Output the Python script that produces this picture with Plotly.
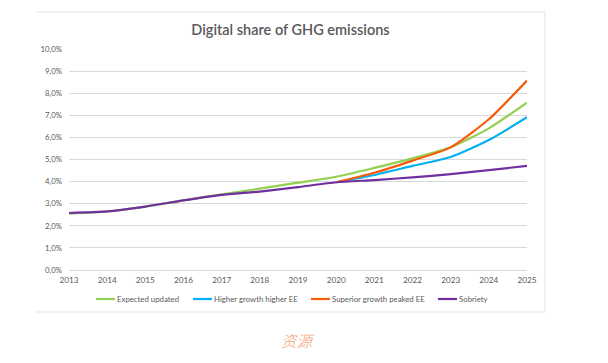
import plotly.graph_objects as go

years = list(range(2013, 2026))
years_alt = list(range(2020, 2026))

expected_updated = [2.55, 2.65, 2.87, 3.15, 3.42, 3.68, 3.95, 4.22, 4.62, 5.05, 5.55, 6.41, 7.57]
higher_growth = [3.97, 4.30, 4.71, 5.11, 5.88, 6.91]
superior_growth = [3.97, 4.40, 4.95, 5.55, 6.82, 8.57]
sobriety = [2.58, 2.65, 2.87, 3.15, 3.40, 3.55, 3.75, 3.97, 4.07, 4.19, 4.34, 4.52, 4.71]

series = [
    ("Expected updated", years, expected_updated, "#92d050"),
    ("Higher growth higher EE", years_alt, higher_growth, "#00b0f0"),
    ("Superior growth peaked EE", years_alt, superior_growth, "#f85a0c"),
    ("Sobriety", years, sobriety, "#7030a0"),
]

# page body has an 8px default margin; work in reference pixel coords minus OFF
OFF = 8
W, H = 608 - OFF, 363 - OFF
PL, PR, PT, PB = 69, 527, 49, 270  # plot area in reference pixels
ml, mr, mt, mb = PL - OFF, W - (PR - OFF), PT - OFF, H - (PB - OFF)
PW, PH = W - ml - mr, H - mt - mb
FONT = "Lato, Open Sans, sans-serif"


def px_x(x):
    return (x - OFF - ml) / PW


def px_y(y):
    return (H - mb - (y - OFF)) / PH


fig = go.Figure()
for name, xs, ys, col in series:
    fig.add_trace(go.Scatter(
        x=xs, y=ys, name=name, mode="lines",
        line=dict(color=col, width=2.2, shape="spline", smoothing=0.6),
        hoverinfo="x+y+name", showlegend=False,
    ))

# manual legend (layout only)
legend_starts = [96, 193, 311, 438]
leg_y = 299
shapes = []
annotations = []
for (name, _, _, col), x0 in zip(series, legend_starts):
    shapes.append(dict(type="line", xref="paper", yref="paper",
                       x0=px_x(x0), x1=px_x(x0 + 19), y0=px_y(leg_y), y1=px_y(leg_y),
                       line=dict(color=col, width=2.2)))
    annotations.append(dict(text=name, xref="paper", yref="paper",
                            x=px_x(x0 + 19), y=px_y(leg_y), xanchor="left", yanchor="middle",
                            showarrow=False, font=dict(family=FONT, size=7.8, color="#595959")))

# chart border: top, right, bottom
border = "#e3e3e3"
for (x0, y0, x1, y1) in [(36, 12, 545, 12), (545, 12, 545, 312), (36, 312, 545, 312)]:
    shapes.append(dict(type="line", xref="paper", yref="paper",
                       x0=px_x(x0), x1=px_x(x1), y0=px_y(y0), y1=px_y(y1),
                       line=dict(color=border, width=1), layer="below"))

annotations.append(dict(text="<i>资源</i>", xref="paper", yref="paper",
                        x=px_x(298), y=px_y(340), xanchor="center", yanchor="middle",
                        showarrow=False,
                        font=dict(family="Noto Sans CJK SC", size=15.5, color="#f7a072", weight=300)))

fig.update_layout(
    width=W, height=H,
    margin=dict(l=ml, r=mr, t=mt, b=mb),
    paper_bgcolor="white", plot_bgcolor="white",
    separators=",.",
    font=dict(family=FONT, color="#595959", size=8),
    showlegend=False,
    title=dict(
        text="Digital share of GHG emissions",
        x=(290.5 - OFF) / W, xanchor="center", y=1 - (29.5 - OFF) / H, yanchor="middle",
        font=dict(size=14.5, color="#595959", family=FONT, weight=600),
    ),
    xaxis=dict(
        range=[2013, 2025], tickmode="linear", dtick=1, tick0=2013,
        showgrid=False, zeroline=False, showline=False,
        ticks="", tickfont=dict(size=8.2, color="#595959"),
        ticklabelstandoff=4, fixedrange=True,
    ),
    yaxis=dict(
        range=[0, 10], dtick=1, tickformat=".1f", ticksuffix="%",
        showgrid=True, gridcolor="#d9d9d9", gridwidth=1,
        zeroline=True, zerolinecolor="#d9d9d9", zerolinewidth=1,
        showline=False, ticks="", tickfont=dict(size=7.8, color="#595959"),
        ticklabelstandoff=6, fixedrange=True,
    ),
    shapes=shapes,
    annotations=annotations,
)

fig.write_html("out.html")
